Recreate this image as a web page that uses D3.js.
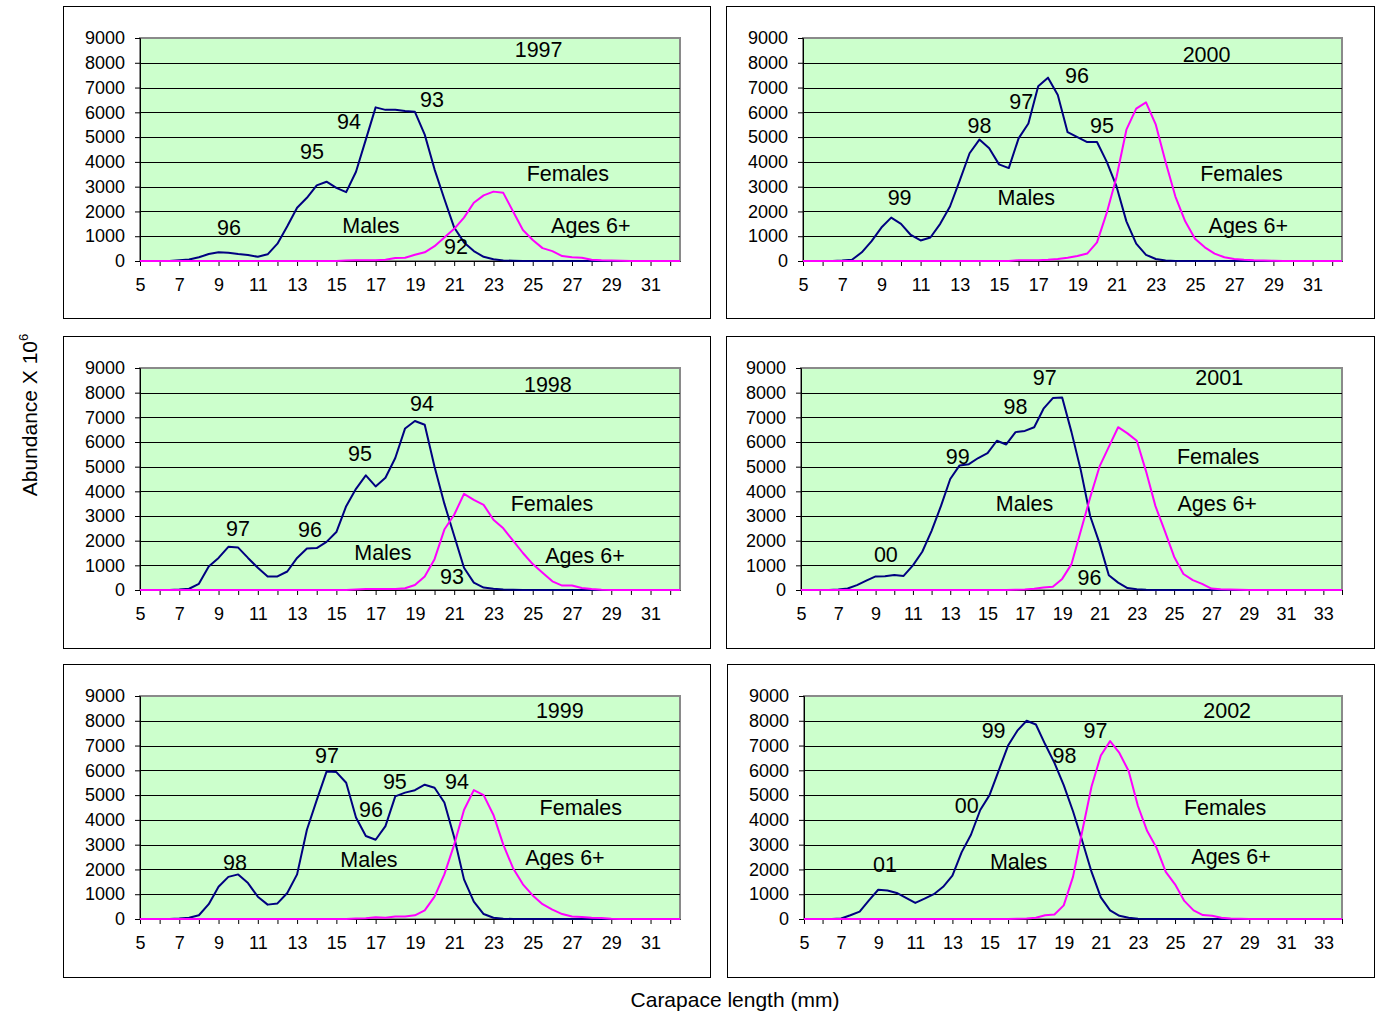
<!DOCTYPE html>
<html>
<head>
<meta charset="utf-8">
<script src="https://cdn.jsdelivr.net/npm/d3@7"></script>
<style>
  html, body { margin: 0; padding: 0; background: #ffffff; }
  svg { display: block; }
  text { font-family: Arial, "Liberation Sans", sans-serif; fill: #000; }
</style>
</head>
<body>
<svg id="chart" width="1380" height="1016"></svg>
<script>
// ---------------- DATA ----------------
const sizesShort = [5,5.5,6,6.5,7,7.5,8,8.5,9,9.5,10,10.5,11,11.5,12,12.5,13,13.5,14,14.5,15,15.5,16,16.5,17,17.5,18,18.5,19,19.5,20,20.5,21,21.5,22,22.5,23,23.5,24,24.5,25,25.5,26,26.5,27,27.5,28,28.5,29,29.5,30,30.5,31,31.5,32,32.5];
const sizesLong = [5,5.5,6,6.5,7,7.5,8,8.5,9,9.5,10,10.5,11,11.5,12,12.5,13,13.5,14,14.5,15,15.5,16,16.5,17,17.5,18,18.5,19,19.5,20,20.5,21,21.5,22,22.5,23,23.5,24,24.5,25,25.5,26,26.5,27,27.5,28,28.5,29,29.5,30,30.5,31,31.5,32,32.5,33,33.5,34];

const yTickValues = [0,1000,2000,3000,4000,5000,6000,7000,8000,9000];
const xTickLabelsShort = [5,7,9,11,13,15,17,19,21,23,25,27,29,31];
const xTickLabelsLong = [5,7,9,11,13,15,17,19,21,23,25,27,29,31,33];

const males1997 = [0,0,0,0,30,60,150,280,350,330,280,240,170,270,700,1400,2150,2550,3050,3200,2950,2780,3600,4900,6200,6100,6100,6050,6020,5100,3700,2500,1350,750,400,170,70,20,10,0,0,0,0,0,0,0,0,0,0,0,0,0,0,0,0,0];
const females1997 = [0,0,0,0,0,0,0,0,0,0,0,0,0,0,0,0,0,0,0,0,0,20,30,30,30,50,120,130,250,350,600,950,1300,1750,2350,2650,2800,2750,2000,1250,850,520,400,200,150,130,50,30,20,10,0,0,0,0,0,0];

const males2000 = [0,0,0,0,20,50,350,800,1350,1750,1500,1050,830,950,1500,2200,3250,4350,4900,4550,3900,3750,4950,5550,7050,7400,6700,5200,5000,4800,4800,4000,3000,1600,700,250,80,20,0,0,0,0,0,0,0,0,0,0,0,0,0,0,0,0,0,0];
const females2000 = [0,0,0,0,0,0,0,0,0,0,0,0,0,0,0,0,0,0,0,0,0,0,30,30,30,50,80,130,200,300,750,1950,3400,5300,6150,6400,5500,4000,2600,1600,900,550,300,150,80,50,30,20,10,0,0,0,0,0,0,0];

const males1998 = [0,0,0,0,20,50,250,950,1300,1750,1720,1300,900,550,550,750,1300,1680,1700,1950,2350,3400,4100,4650,4200,4550,5350,6550,6850,6700,5000,3500,2200,900,300,100,50,20,10,0,0,0,0,0,0,0,0,0,0,0,0,0,0,0,0,0];
const females1998 = [0,0,0,0,0,0,0,0,0,0,0,0,0,0,0,0,0,0,0,0,0,0,20,40,40,40,40,70,200,550,1250,2450,3050,3900,3650,3450,2850,2500,2000,1500,1050,700,350,180,180,80,40,10,0,0,0,0,0,0,0,0];

const males2001 = [0,0,0,0,20,60,200,380,550,560,610,570,1000,1550,2400,3400,4500,5050,5100,5350,5550,6050,5900,6400,6450,6600,7350,7780,7800,6400,4850,3000,1900,600,300,80,30,10,0,0,0,0,0,0,0,0,0,0,0,0,0,0,0,0,0,0,0,0,0];
const females2001 = [0,0,0,0,0,0,0,0,0,0,0,0,0,0,0,0,0,0,0,0,0,0,0,10,20,50,100,130,450,1050,2400,3750,5000,5800,6600,6350,6050,4800,3400,2400,1350,650,400,250,60,30,20,10,0,0,0,0,0,0,0,0,0,0,0];

const males1999 = [0,0,0,0,20,50,150,600,1300,1700,1800,1450,900,580,630,1050,1800,3600,4800,5950,5930,5500,4100,3350,3200,3750,4950,5100,5200,5420,5300,4700,3300,1600,700,200,50,10,0,0,0,0,0,0,0,0,0,0,0,0,0,0,0,0,0,0];
const females1999 = [0,0,0,0,0,0,0,0,0,0,0,0,0,0,0,0,0,0,0,0,0,0,20,30,70,50,100,100,150,350,900,1800,3000,4400,5200,5000,4200,3000,2050,1400,950,600,380,200,100,80,50,40,10,0,0,0,0,0,0,0];

const males2002 = [0,0,0,0,20,150,300,750,1180,1150,1050,850,650,820,1000,1300,1750,2700,3400,4400,5000,6000,7000,7600,8000,7850,7050,6300,5400,4350,3150,1900,870,350,130,50,10,0,0,0,0,0,0,0,0,0,0,0,0,0,0,0,0,0,0,0,0,0,0];
const females2002 = [0,0,0,0,0,0,0,0,0,0,0,0,0,0,0,0,0,0,0,0,0,0,0,10,20,50,150,180,550,1700,3550,5350,6600,7180,6700,5970,4560,3550,2880,1900,1400,730,350,160,130,50,20,10,0,0,0,0,0,0,0,0,0,0,0];

// annotation texts with their position in data units [text, mm, abundance]
const labels1997 = [["1997",25.3,8470],["93",19.87,6460],["94",15.64,5570],["95",13.76,4360],["96",9.53,1290],["Males",16.76,1370],["92",21.09,520],["Females",26.79,3470],["Ages 6+",27.96,1370]];
const labels2000 = [["2000",25.59,8270],["96",18.98,7430],["97",16.13,6380],["98",14.0,5410],["95",20.25,5410],["99",9.93,2500],["Males",16.39,2500],["Females",27.37,3470],["Ages 6+",27.72,1370]];
const labels1998 = [["1998",25.77,8270],["94",19.36,7500],["95",16.2,5470],["97",9.99,2430],["96",13.66,2390],["Males",17.37,1460],["93",20.89,490],["Females",25.98,3450],["Ages 6+",27.66,1340]];
const labels2001 = [["97",18.06,8550],["2001",27.42,8550],["98",16.5,7380],["99",13.4,5350],["Females",27.36,5350],["Males",16.98,3450],["Ages 6+",27.31,3450],["00",9.55,1380],["96",20.46,450]];
const labels1999 = [["1999",26.38,8350],["97",14.52,6540],["95",17.98,5490],["94",21.14,5490],["96",16.76,4360],["Females",27.45,4440],["Ages 6+",26.64,2420],["98",9.84,2220],["Males",16.66,2340]];
const labels2002 = [["2002",27.81,8350],["99",15.22,7550],["97",20.71,7550],["98",19.04,6540],["00",13.77,4520],["Females",27.7,4440],["Males",16.57,2260],["Ages 6+",28.02,2460],["01",9.36,2140]];

// ---------------- LAYOUT ----------------
const panels = [
  {box:[63,6,710,318],    plot:[140,38,680,261],  sizes:sizesShort, xMax:32.5, ticks:xTickLabelsShort, males:males1997, females:females1997, labels:labels1997},
  {box:[726,6,1374,318],  plot:[803,38,1342,261], sizes:sizesShort, xMax:32.5, ticks:xTickLabelsShort, males:males2000, females:females2000, labels:labels2000},
  {box:[63,336,710,648],  plot:[140,368,680,590], sizes:sizesShort, xMax:32.5, ticks:xTickLabelsShort, males:males1998, females:females1998, labels:labels1998},
  {box:[726,336,1374,648],plot:[801,368,1342,590],sizes:sizesLong,  xMax:34,   ticks:xTickLabelsLong,  males:males2001, females:females2001, labels:labels2001},
  {box:[63,664,710,977],  plot:[140,696,680,919], sizes:sizesShort, xMax:32.5, ticks:xTickLabelsShort, males:males1999, females:females1999, labels:labels1999},
  {box:[727,664,1374,977],plot:[804,696,1342,919],sizes:sizesLong,  xMax:34,   ticks:xTickLabelsLong,  males:males2002, females:females2002, labels:labels2002}
];

const svg = d3.select("#chart");
svg.append("rect").attr("width",1380).attr("height",1016).attr("fill","#ffffff");

panels.forEach(p => {
  const g = svg.append("g");
  const [bx0,by0,bx1,by1] = p.box;
  const [px0,py0,px1,py1] = p.plot;

  g.append("rect").attr("x",bx0+0.5).attr("y",by0+0.5).attr("width",bx1-bx0).attr("height",by1-by0)
    .attr("fill","none").attr("stroke","#000").attr("stroke-width",1);

  const x = d3.scaleLinear().domain([5,p.xMax]).range([px0,px1]);
  const y = d3.scaleLinear().domain([0,9000]).range([py1,py0]);

  g.append("rect").attr("x",px0).attr("y",py0).attr("width",px1-px0).attr("height",py1-py0)
    .attr("fill","#ccffcc").attr("stroke","#8a8a8a").attr("stroke-width",2);

  g.selectAll("line.grid").data(yTickValues.filter(v => v>0 && v<9000)).enter().append("line")
    .attr("x1",px0).attr("x2",px1).attr("y1",d=>Math.round(y(d))+0.5).attr("y2",d=>Math.round(y(d))+0.5)
    .attr("stroke","#000").attr("stroke-width",1);

  const yAxis = d3.axisLeft(y).tickValues(yTickValues).tickSize(5).tickPadding(10).tickFormat(d3.format("d"));
  const ya = g.append("g").attr("transform",`translate(${px0},0)`).call(yAxis);
  ya.selectAll("text").style("font-size","18px");
  ya.selectAll("path,line").attr("stroke","#000");

  const intTicks = d3.range(5, Math.floor(p.xMax)+1, 1);
  const xAxis = d3.axisBottom(x).tickValues(intTicks).tickSize(5).tickPadding(12)
    .tickFormat(d => p.ticks.includes(d) ? String(d) : "").tickSizeOuter(0);
  const xa = g.append("g").attr("transform",`translate(0,${py1})`).call(xAxis);
  xa.selectAll("text").style("font-size","18px");
  xa.selectAll("path,line").attr("stroke","#000");

  const line = d3.line().x((d,i)=>x(p.sizes[i])).y(d=>y(d));
  g.append("path").datum(p.males).attr("d",line).attr("fill","none")
    .attr("stroke","#000080").attr("stroke-width",2).attr("stroke-linejoin","round");
  g.append("path").datum(p.females).attr("d",line).attr("fill","none")
    .attr("stroke","#ff00ff").attr("stroke-width",2).attr("stroke-linejoin","round");

  g.selectAll("text.ann").data(p.labels).enter().append("text")
    .attr("class","ann").attr("x",d=>x(d[1])).attr("y",d=>y(d[2])).attr("dy","0.27em")
    .attr("text-anchor","middle").style("font-size","21.5px").text(d=>d[0]);
});

// axis titles
const yt = svg.append("text").attr("transform","translate(37,415) rotate(-90)")
  .attr("text-anchor","middle").style("font-size","21px");
yt.append("tspan").text("Abundance X 10");
yt.append("tspan").attr("dy","-9").style("font-size","13px").text("6");

svg.append("text").attr("x",735).attr("y",1007).attr("text-anchor","middle")
  .style("font-size","21px").text("Carapace length (mm)");
</script>
</body>
</html>
